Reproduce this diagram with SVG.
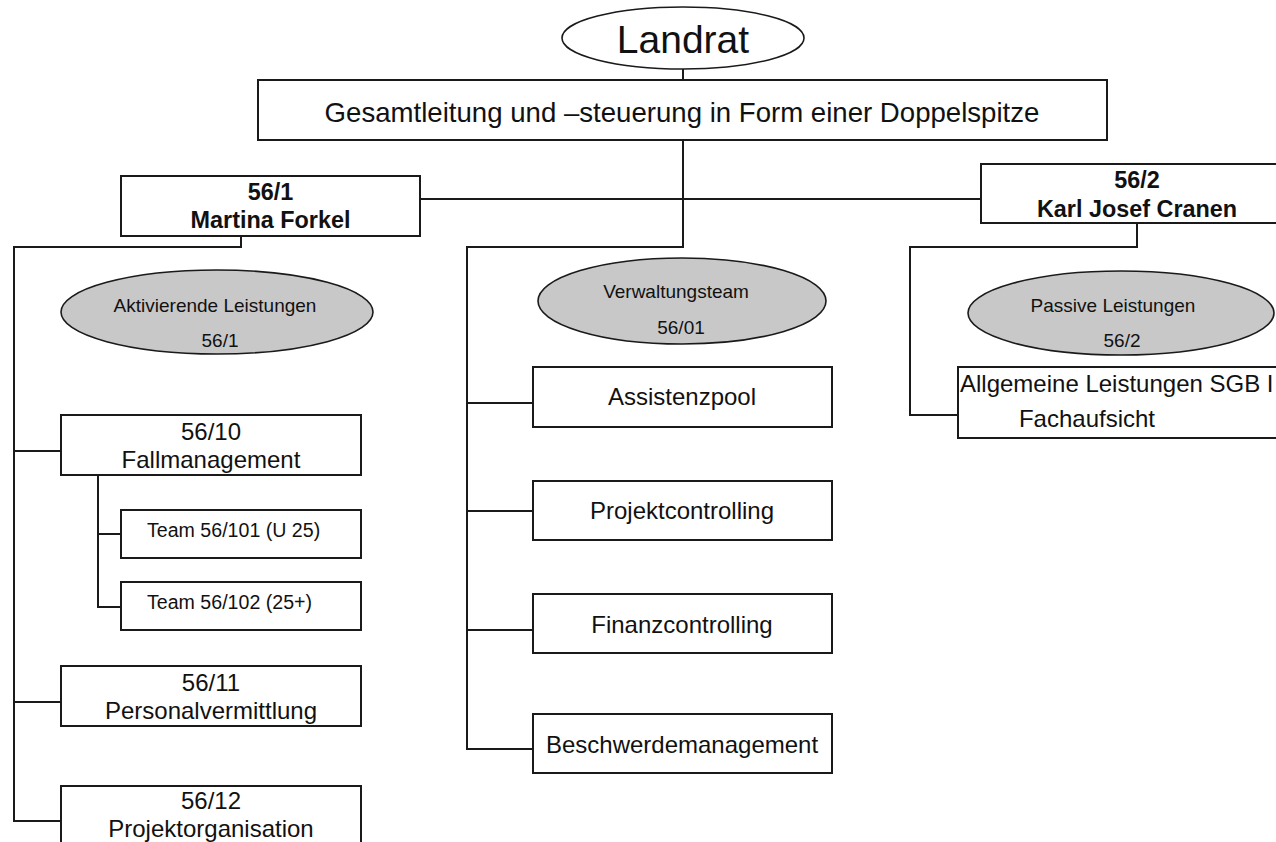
<svg xmlns="http://www.w3.org/2000/svg" width="1276" height="842" viewBox="0 0 1276 842">
<style>
.bx{fill:#fff;stroke:#1a1a1a;stroke-width:2}
.el{fill:#c8c8c8;stroke:#1a1a1a;stroke-width:1.6}
.ln{fill:none;stroke:#1a1a1a;stroke-width:2}
text{font-family:"Liberation Sans",Arial,sans-serif;fill:#111}
.t24{font-size:24px;text-anchor:middle}
.b{font-size:23.4px;font-weight:bold;text-anchor:middle}
.s{font-size:19px;text-anchor:middle}
</style>
<rect width="1276" height="842" fill="#fff"/>
<g id="connectors" class="ln">
<path d="M683 69V80"/>
<path d="M683 140V247H467V749H533M467 403H533M467 511H533M467 630H533"/>
<path d="M420 199H981"/>
<path d="M241 236V247H14V821H61M14 451H61M14 702H61"/>
<path d="M98 475V607H121M98 534H121"/>
<path d="M1137 223V247H910V415H958"/>
</g>
<g id="landrat">
<ellipse cx="683" cy="38" rx="121" ry="31" fill="#fff" stroke="#1a1a1a" stroke-width="1.6"/>
<text x="683" y="53" font-size="39" text-anchor="middle">Landrat</text>
</g>
<g id="gesamtleitung">
<rect class="bx" x="258" y="80" width="849" height="60"/>
<text x="682" y="122" font-size="27.6" text-anchor="middle">Gesamtleitung und –steuerung in Form einer Doppelspitze</text>
</g>
<g id="forkel">
<rect class="bx" x="121" y="176" width="299" height="60"/>
<text class="b" x="270.5" y="200">56/1</text>
<text class="b" x="270.5" y="228">Martina Forkel</text>
</g>
<g id="cranen">
<rect class="bx" x="981" y="164" width="320" height="59"/>
<text class="b" x="1137" y="188">56/2</text>
<text class="b" x="1137" y="217">Karl Josef Cranen</text>
</g>
<g id="aktivierende">
<ellipse class="el" cx="217" cy="312" rx="156" ry="42"/>
<text class="s" x="215" y="312">Aktivierende Leistungen</text>
<text class="s" x="220" y="347">56/1</text>
</g>
<g id="verwaltungsteam">
<ellipse class="el" cx="682" cy="301" rx="144" ry="43"/>
<text class="s" x="676" y="298">Verwaltungsteam</text>
<text class="s" x="681" y="334">56/01</text>
</g>
<g id="passive">
<ellipse class="el" cx="1121" cy="313" rx="153" ry="42"/>
<text class="s" x="1113" y="312">Passive Leistungen</text>
<text class="s" x="1122" y="347">56/2</text>
</g>
<g id="allgemeine">
<rect class="bx" x="958" y="367" width="340" height="71"/>
<text x="960" y="392" font-size="24">Allgemeine Leistungen SGB I</text>
<text class="t24" x="1087" y="427">Fachaufsicht</text>
</g>
<g id="fallmanagement">
<rect class="bx" x="61" y="415" width="300" height="60"/>
<text class="t24" x="211" y="440">56/10</text>
<text class="t24" x="211" y="468">Fallmanagement</text>
</g>
<g id="team101">
<rect class="bx" x="121" y="510" width="240" height="48"/>
<text x="147" y="537" font-size="19.6">Team 56/101 (U 25)</text>
</g>
<g id="team102">
<rect class="bx" x="121" y="582" width="240" height="48"/>
<text x="147" y="609" font-size="19.6">Team 56/102 (25+)</text>
</g>
<g id="personalvermittlung">
<rect class="bx" x="61" y="666" width="300" height="60"/>
<text class="t24" x="211" y="691">56/11</text>
<text class="t24" x="211" y="719">Personalvermittlung</text>
</g>
<g id="projektorganisation">
<rect class="bx" x="61" y="786" width="300" height="70"/>
<text class="t24" x="211" y="809">56/12</text>
<text class="t24" x="211" y="837">Projektorganisation</text>
</g>
<g id="assistenzpool">
<rect class="bx" x="533" y="367" width="299" height="60"/>
<text class="t24" x="682" y="405">Assistenzpool</text>
</g>
<g id="projektcontrolling">
<rect class="bx" x="533" y="481" width="299" height="59"/>
<text class="t24" x="682" y="519">Projektcontrolling</text>
</g>
<g id="finanzcontrolling">
<rect class="bx" x="533" y="594" width="299" height="59"/>
<text class="t24" x="682" y="633">Finanzcontrolling</text>
</g>
<g id="beschwerdemanagement">
<rect class="bx" x="533" y="714" width="299" height="59"/>
<text class="t24" x="682" y="753">Beschwerdemanagement</text>
</g>
</svg>
